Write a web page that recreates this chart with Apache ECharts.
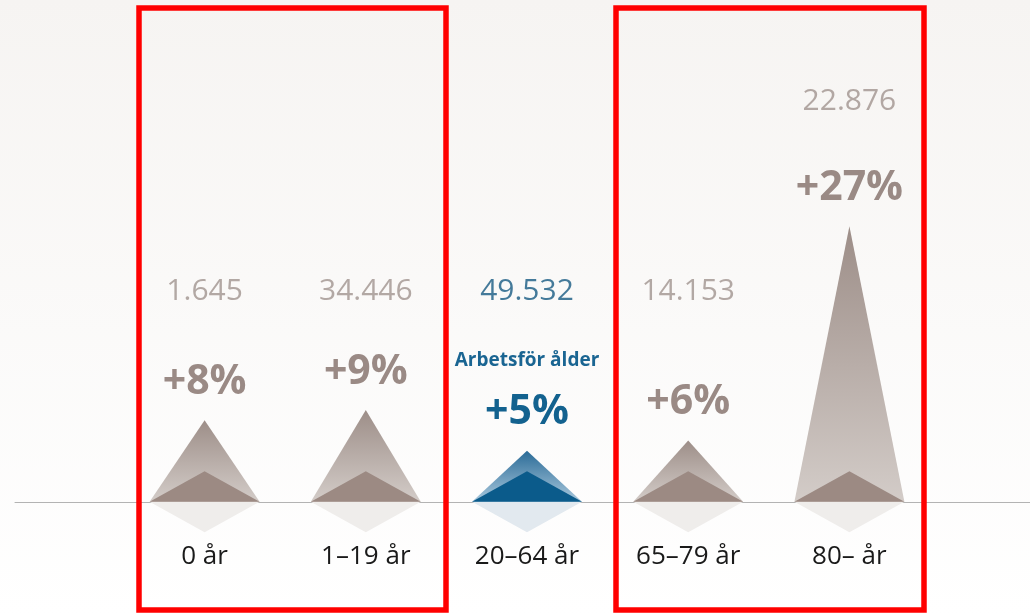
<!DOCTYPE html>
<html>
<head>
<meta charset="utf-8">
<script src="https://cdn.jsdelivr.net/npm/echarts@6/dist/echarts.min.js"></script>
<style>
  html, body { margin: 0; padding: 0; background: #fff; }
  #chart { width: 1030px; height: 615px; }
</style>
</head>
<body>
<div id="chart"></div>
<script>
const categories = ['0 år', '1–19 år', '20–64 år', '65–79 år', '80– år'];
const growthPct = [8, 9, 5, 6, 27];
const population = ['1.645', '34.446', '49.532', '14.153', '22.876'];
const baseTri = [3, 3, 3, 3, 3];
const workIdx = 2; // the "Arbetsför ålder" group

const yMin = -11, yMax = 48;
const gridTop = 12, gridBottom = 1;
const chartH = 615;
// pixel distance from grid bottom up to value 0
const zeroOffset = (chartH - gridTop - gridBottom) * (0 - yMin) / (yMax - yMin);

const grad = (top, bottom) => new echarts.graphic.LinearGradient(0, 0, 0, 1, [
    { offset: 0, color: top },
    { offset: 1, color: bottom }
]);

const outerData = growthPct.map((v, i) => ({
    value: v,
    itemStyle: { color: i === workIdx ? grad('#2a6b97', '#a9c8dd') : grad('#9d8e88', '#d3ccc8') },
    label: i === workIdx ? {
        formatter: '{t|Arbetsför ålder}\n{p|+' + v + '%}'
    } : {}
}));

const innerData = baseTri.map((v, i) => ({
    value: v,
    itemStyle: { color: i === workIdx ? '#0b5b8b' : '#9c8a83' }
}));

// reflection below the baseline (negative values are drawn flipped)
const mirrorData = baseTri.map((v, i) => ({
    value: -v,
    itemStyle: { color: i === workIdx ? '#e2e9ef' : '#efedeb' }
}));

// population numbers sit on one common line unless the triangle reaches it
const numberData = growthPct.map((v, i) => {
    const lvl = v + 12.2;
    return {
        value: lvl > 25 ? lvl : 20.6,
        label: { color: i === workIdx ? '#175a82' : '#a0938e' }
    };
});

const chart = echarts.init(document.getElementById('chart'));
chart.setOption({
    backgroundColor: grad('#f6f4f2', '#ffffff'),
    animation: false,
    grid: [
        { left: 124, right: 100, top: gridTop, bottom: gridBottom, outerBoundsMode: 'none', containLabel: false },
        { left: 15, right: 0, top: gridTop, bottom: gridBottom, outerBoundsMode: 'none', containLabel: false }
    ],
    xAxis: [
        {
            type: 'category',
            data: categories,
            offset: -zeroOffset,
            axisLine: { show: false, onZero: false },
            axisTick: { show: false },
            axisLabel: { color: '#1a1a1a', fontSize: 26, fontFamily: 'Open Sans', margin: 42 }
        },
        {
            type: 'value',
            gridIndex: 1,
            axisLine: { show: true, onZero: true, lineStyle: { color: '#b3b3b3', width: 1 } },
            axisTick: { show: false },
            axisLabel: { show: false },
            splitLine: { show: false }
        }
    ],
    yAxis: [
        { type: 'value', min: yMin, max: yMax, show: false },
        { type: 'value', gridIndex: 1, min: yMin, max: yMax, show: false }
    ],
    series: [
        {
            type: 'pictorialBar',
            symbol: 'triangle',
            symbolSize: [110, '100%'],
            barCategoryGap: '20%',
            z: 2,
            data: outerData,
            label: {
                show: true,
                position: 'top',
                distance: 15,
                formatter: '+{c}%',
                fontFamily: 'Open Sans',
                fontWeight: 'bold',
                fontSize: 41,
                lineHeight: 46,
                color: '#9a8a85',
                rich: {
                    t: { fontFamily: 'Open Sans', fontWeight: 'bold', fontSize: 19, color: '#1a6592', lineHeight: 58 },
                    p: { fontFamily: 'Open Sans', fontWeight: 'bold', fontSize: 41, color: '#13628f', lineHeight: 46 }
                }
            }
        },
        {
            type: 'pictorialBar',
            symbol: 'triangle',
            symbolSize: [110, '100%'],
            z: 3,
            data: innerData
        },
        {
            type: 'pictorialBar',
            symbol: 'triangle',
            symbolSize: [110, '100%'],
            z: 1,
            data: mirrorData
        },
        {
            type: 'scatter',
            symbolSize: 0,
            z: 4,
            data: numberData,
            label: {
                show: true,
                position: 'inside',
                formatter: (p) => population[p.dataIndex],
                fontFamily: 'Open Sans',
                fontSize: 30
            }
        }
    ],
    graphic: [
        { type: 'rect', shape: { x: 139, y: 8, width: 307, height: 602 }, style: { fill: 'none', stroke: '#ff0000', lineWidth: 5.5 }, z: 10 },
        { type: 'rect', shape: { x: 616, y: 8, width: 308, height: 602 }, style: { fill: 'none', stroke: '#ff0000', lineWidth: 5.5 }, z: 10 }
    ]
});
</script>
</body>
</html>
